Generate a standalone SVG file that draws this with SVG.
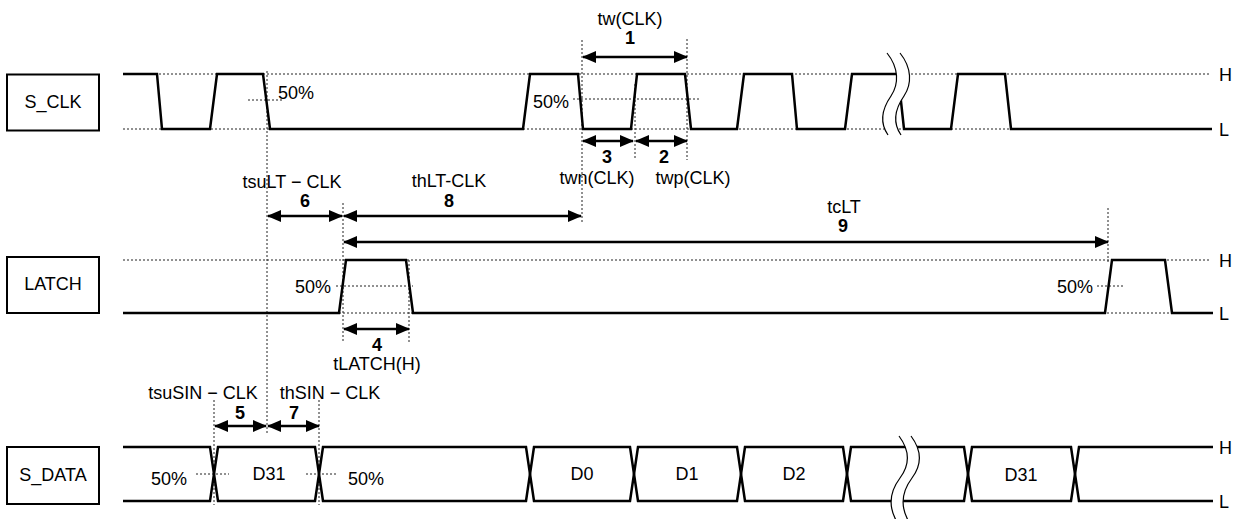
<svg xmlns="http://www.w3.org/2000/svg" width="1236" height="519" viewBox="0 0 1236 519">
<defs>
<style>
text{font-family:"Liberation Sans",Arial,Helvetica,sans-serif;font-size:18px;fill:#000}
.b{font-weight:bold}
.m{text-anchor:middle}
.box{fill:#fff;stroke:#000;stroke-width:2}
.sig{fill:none;stroke:#000;stroke-width:2.5;stroke-linejoin:miter}
.dot{fill:none;stroke:#222;stroke-width:1;stroke-dasharray:2,2}
.arr{fill:none;stroke:#000;stroke-width:2.5;marker-start:url(#ah);marker-end:url(#ah)}
.brk{fill:#fff;stroke:none}
.brl{fill:none;stroke:#000;stroke-width:1.2}
</style>
<marker id="ah" viewBox="0 0 14 12" refX="13" refY="6" markerWidth="14" markerHeight="12" markerUnits="userSpaceOnUse" orient="auto-start-reverse">
<path d="M0,0 L14,6 L0,12 z" fill="#000"/>
</marker>
</defs>
<rect width="1236" height="519" fill="#fff"/>

<g id="guides">
<path class="dot" d="M123,74 H1210 M123,129 H1210 M248,100 H283 M573,99 H700"/>
<path class="dot" d="M123,260 H1210 M123,313 H1210 M336,286 H413 M1097,286 H1124"/>
<path class="dot" d="M196,474 H229 M306,474 H336"/>
<path class="dot" d="M267,71 V435 M582,40 V222 M687,39 V160 M635,84 V160 M343,203 V342 M409,260 V342 M1108,208 V262 M214,400 V505 M319,400 V505"/>
</g>

<g id="s_clk">
<rect class="box" x="7" y="74.5" width="92" height="56"/>
<text class="m" x="53" y="108">S_CLK</text>
<path class="sig" d="M123,74 H157 L162,129 H210 L217,74 H263 L270,129 H523 L530,74 H578 L583,129 H631 L637,74 H685 L691,129 H737 L744,74 H792 L797,129 H845 L852,74 H898 L904,129 H951 L958,74 H1005 L1011,129 H1212"/>
<path class="brk" d="M887,53 C899,68 899,84 891,96 C882,109 879,122 888,135 L901,135 C892,122 895,109 904,96 C912,84 912,68 900,53 Z"/>
<path class="brl" d="M887,53 C899,68 899,84 891,96 C882,109 879,122 888,135 M900,53 C912,68 912,84 904,96 C895,109 892,122 901,135"/>
<text x="1219" y="81">H</text>
<text x="1219" y="136">L</text>
<text class="m" x="296" y="99">50%</text>
<text class="m" x="551" y="108">50%</text>
</g>

<g id="latch">
<rect class="box" x="7" y="257" width="92" height="56"/>
<text class="m" x="53" y="290">LATCH</text>
<path class="sig" d="M123,313 H339 L346,260 H406 L413,313 H1105 L1112,260 H1165 L1172,313 H1213"/>
<text x="1219" y="267">H</text>
<text x="1219" y="320">L</text>
<text class="m" x="313" y="293">50%</text>
<text class="m" x="1075" y="293">50%</text>
</g>

<g id="s_data">
<rect class="box" x="7" y="447" width="92" height="57"/>
<text class="m" x="53" y="481">S_DATA</text>
<path class="sig" d="M123,447 H210 L214,474 L210,501 H123"/>
<path class="sig" d="M214,474 L218,447 H315 L319,474 L315,501 H218 Z"/>
<path class="sig" d="M319,474 L323,447 H526 L530,474 L526,501 H323 Z"/>
<path class="sig" d="M530,474 L534,447 H630 L634,474 L630,501 H534 Z"/>
<path class="sig" d="M634,474 L638,447 H737 L741,474 L737,501 H638 Z"/>
<path class="sig" d="M741,474 L745,447 H843 L847,474 L843,501 H745 Z"/>
<path class="sig" d="M847,474 L851,447 H964 L968,474 L964,501 H851 Z"/>
<path class="sig" d="M968,474 L972,447 H1071 L1075,474 L1071,501 H972 Z"/>
<path class="sig" d="M1075,474 L1079,447 H1213 M1075,474 L1079,501 H1213"/>
<path class="brk" d="M899,436 C911,452 909,466 900,478 C891,490 887,505 897,522 L909,522 C899,505 903,490 912,478 C921,466 923,452 911,436 Z"/>
<path class="brl" d="M899,436 C911,452 909,466 900,478 C891,490 887,505 897,522 M911,436 C923,452 921,466 912,478 C903,490 899,505 909,522"/>
<text x="1219" y="454">H</text>
<text x="1219" y="508">L</text>
<text class="m" x="169" y="485">50%</text>
<text class="m" x="366" y="485">50%</text>
<text class="m" x="269" y="480">D31</text>
<text class="m" x="582" y="480">D0</text>
<text class="m" x="687" y="480">D1</text>
<text class="m" x="794" y="480">D2</text>
<text class="m" x="1021" y="481">D31</text>
</g>

<g id="connectors">
<line class="arr" x1="583" y1="57" x2="687" y2="57"/>
<line class="arr" x1="583" y1="141" x2="633" y2="141"/>
<line class="arr" x1="636" y1="141" x2="687" y2="141"/>
<line class="arr" x1="268" y1="216" x2="342" y2="216"/>
<line class="arr" x1="344" y1="216" x2="581" y2="216"/>
<line class="arr" x1="344" y1="242" x2="1108" y2="242"/>
<line class="arr" x1="344" y1="329" x2="409" y2="329"/>
<line class="arr" x1="215" y1="426" x2="266" y2="426"/>
<line class="arr" x1="268" y1="426" x2="319" y2="426"/>
</g>

<g id="labels">
<text class="m" x="630" y="25">tw(CLK)</text>
<text class="m b" x="630" y="44">1</text>
<text class="m b" x="607" y="163">3</text>
<text class="m b" x="664" y="163">2</text>
<text class="m" x="597" y="184">twn(CLK)</text>
<text class="m" x="693" y="184">twp(CLK)</text>
<text class="m" x="292" y="188">tsuLT − CLK</text>
<text class="m b" x="305" y="207">6</text>
<text class="m" x="449" y="187">thLT-CLK</text>
<text class="m b" x="449" y="207">8</text>
<text class="m" x="844" y="213">tcLT</text>
<text class="m b" x="843" y="232">9</text>
<text class="m b" x="377" y="351">4</text>
<text class="m" x="377" y="370">tLATCH(H)</text>
<text class="m" x="203" y="399">tsuSIN − CLK</text>
<text class="m" x="330" y="399">thSIN − CLK</text>
<text class="m b" x="240" y="419">5</text>
<text class="m b" x="294" y="419">7</text>
</g>
</svg>
